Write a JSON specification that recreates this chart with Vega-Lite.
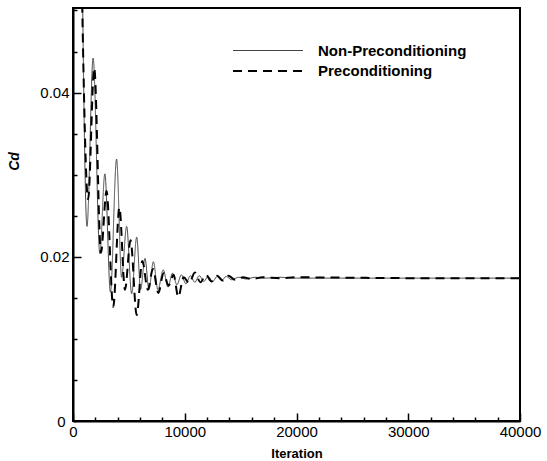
{
  "$schema": "https://vega.github.io/schema/vega-lite/v6.json",
  "width": 447,
  "height": 413,
  "autosize": "none",
  "padding": {"left": 73, "top": 8, "right": 27, "bottom": 40},
  "background": "white",
  "config": {
    "view": {"stroke": "black", "strokeWidth": 2},
    "font": "Liberation Sans",
    "legend": {"padding": 0}
  },
  "datasets": {
    "curves": [
      {"iter": 800, "cd": 0.058, "s": "Non-Preconditioning"},
      {"iter": 1250, "cd": 0.0237, "s": "Non-Preconditioning"},
      {"iter": 1800, "cd": 0.0442, "s": "Non-Preconditioning"},
      {"iter": 2400, "cd": 0.0204, "s": "Non-Preconditioning"},
      {"iter": 2850, "cd": 0.0301, "s": "Non-Preconditioning"},
      {"iter": 3350, "cd": 0.0157, "s": "Non-Preconditioning"},
      {"iter": 3900, "cd": 0.0319, "s": "Non-Preconditioning"},
      {"iter": 4350, "cd": 0.0175, "s": "Non-Preconditioning"},
      {"iter": 4800, "cd": 0.0237, "s": "Non-Preconditioning"},
      {"iter": 5250, "cd": 0.0155, "s": "Non-Preconditioning"},
      {"iter": 5700, "cd": 0.0224, "s": "Non-Preconditioning"},
      {"iter": 6050, "cd": 0.0160, "s": "Non-Preconditioning"},
      {"iter": 6440, "cd": 0.0198, "s": "Non-Preconditioning"},
      {"iter": 6800, "cd": 0.0160, "s": "Non-Preconditioning"},
      {"iter": 7190, "cd": 0.0194, "s": "Non-Preconditioning"},
      {"iter": 7600, "cd": 0.0160, "s": "Non-Preconditioning"},
      {"iter": 8080, "cd": 0.0184, "s": "Non-Preconditioning"},
      {"iter": 8500, "cd": 0.0163, "s": "Non-Preconditioning"},
      {"iter": 8900, "cd": 0.0180, "s": "Non-Preconditioning"},
      {"iter": 9300, "cd": 0.0166, "s": "Non-Preconditioning"},
      {"iter": 9700, "cd": 0.0178, "s": "Non-Preconditioning"},
      {"iter": 10100, "cd": 0.0167, "s": "Non-Preconditioning"},
      {"iter": 10500, "cd": 0.0177, "s": "Non-Preconditioning"},
      {"iter": 10900, "cd": 0.0169, "s": "Non-Preconditioning"},
      {"iter": 11300, "cd": 0.0177, "s": "Non-Preconditioning"},
      {"iter": 11700, "cd": 0.0170, "s": "Non-Preconditioning"},
      {"iter": 12100, "cd": 0.0176, "s": "Non-Preconditioning"},
      {"iter": 12500, "cd": 0.0170, "s": "Non-Preconditioning"},
      {"iter": 12900, "cd": 0.0176, "s": "Non-Preconditioning"},
      {"iter": 13300, "cd": 0.0171, "s": "Non-Preconditioning"},
      {"iter": 13700, "cd": 0.0176, "s": "Non-Preconditioning"},
      {"iter": 14200, "cd": 0.0172, "s": "Non-Preconditioning"},
      {"iter": 14800, "cd": 0.0175, "s": "Non-Preconditioning"},
      {"iter": 15500, "cd": 0.0173, "s": "Non-Preconditioning"},
      {"iter": 16300, "cd": 0.0175, "s": "Non-Preconditioning"},
      {"iter": 17200, "cd": 0.0174, "s": "Non-Preconditioning"},
      {"iter": 18500, "cd": 0.0175, "s": "Non-Preconditioning"},
      {"iter": 20000, "cd": 0.0174, "s": "Non-Preconditioning"},
      {"iter": 25000, "cd": 0.0174, "s": "Non-Preconditioning"},
      {"iter": 30000, "cd": 0.0174, "s": "Non-Preconditioning"},
      {"iter": 40000, "cd": 0.0174, "s": "Non-Preconditioning"},
      {"iter": 700, "cd": 0.060, "s": "Preconditioning"},
      {"iter": 1350, "cd": 0.027, "s": "Preconditioning"},
      {"iter": 1900, "cd": 0.0430, "s": "Preconditioning"},
      {"iter": 2500, "cd": 0.0205, "s": "Preconditioning"},
      {"iter": 3000, "cd": 0.0280, "s": "Preconditioning"},
      {"iter": 3600, "cd": 0.0139, "s": "Preconditioning"},
      {"iter": 4150, "cd": 0.0260, "s": "Preconditioning"},
      {"iter": 4650, "cd": 0.0160, "s": "Preconditioning"},
      {"iter": 5150, "cd": 0.0220, "s": "Preconditioning"},
      {"iter": 5700, "cd": 0.0129, "s": "Preconditioning"},
      {"iter": 6200, "cd": 0.0195, "s": "Preconditioning"},
      {"iter": 6700, "cd": 0.0160, "s": "Preconditioning"},
      {"iter": 7150, "cd": 0.0185, "s": "Preconditioning"},
      {"iter": 7640, "cd": 0.0156, "s": "Preconditioning"},
      {"iter": 8100, "cd": 0.0180, "s": "Preconditioning"},
      {"iter": 8550, "cd": 0.0165, "s": "Preconditioning"},
      {"iter": 9000, "cd": 0.0178, "s": "Preconditioning"},
      {"iter": 9420, "cd": 0.0151, "s": "Preconditioning"},
      {"iter": 9900, "cd": 0.0175, "s": "Preconditioning"},
      {"iter": 10400, "cd": 0.0168, "s": "Preconditioning"},
      {"iter": 10900, "cd": 0.0181, "s": "Preconditioning"},
      {"iter": 11400, "cd": 0.0169, "s": "Preconditioning"},
      {"iter": 11900, "cd": 0.0178, "s": "Preconditioning"},
      {"iter": 12400, "cd": 0.0170, "s": "Preconditioning"},
      {"iter": 12900, "cd": 0.0177, "s": "Preconditioning"},
      {"iter": 13400, "cd": 0.0171, "s": "Preconditioning"},
      {"iter": 13900, "cd": 0.0177, "s": "Preconditioning"},
      {"iter": 14500, "cd": 0.0172, "s": "Preconditioning"},
      {"iter": 15200, "cd": 0.0175, "s": "Preconditioning"},
      {"iter": 16000, "cd": 0.0173, "s": "Preconditioning"},
      {"iter": 17000, "cd": 0.0175, "s": "Preconditioning"},
      {"iter": 18500, "cd": 0.0174, "s": "Preconditioning"},
      {"iter": 20000, "cd": 0.0175, "s": "Preconditioning"},
      {"iter": 30000, "cd": 0.0174, "s": "Preconditioning"},
      {"iter": 40000, "cd": 0.0174, "s": "Preconditioning"}
    ]
  },
  "data": {"name": "curves"},
  "mark": {"type": "line", "clip": true, "interpolate": "monotone"},
  "encoding": {
    "x": {
      "field": "iter", "type": "quantitative",
      "scale": {"domain": [0, 40000], "nice": false},
      "axis": {
        "title": "Iteration",
        "titleFont": "Liberation Sans", "titleFontSize": 13, "titleFontWeight": "bold", "titleColor": "black", "titlePadding": 8,
        "values": [0, 2000, 4000, 6000, 8000, 10000, 12000, 14000, 16000, 18000, 20000, 22000, 24000, 26000, 28000, 30000, 32000, 34000, 36000, 38000, 40000],
        "labelExpr": "datum.value % 10000 === 0 ? datum.value : ''",
        "labelFontSize": 15, "labelColor": "black", "labelPadding": 11,
        "labelFlush": false,
        "domainColor": "black", "domainWidth": 2,
        "tickColor": "black", "tickWidth": 1.5,
        "tickSize": {"condition": {"test": "datum.value % 10000 === 0", "value": -8}, "value": -4},
        "grid": false
      }
    },
    "y": {
      "field": "cd", "type": "quantitative",
      "scale": {"domain": [0, 0.0503], "nice": false, "zero": true},
      "axis": {
        "title": "Cd",
        "titleFont": "Liberation Sans", "titleFontSize": 14, "titleFontWeight": "bold", "titleFontStyle": "italic", "titleColor": "black",
        "titleAngle": -90, "titleX": -52, "titleY": 153,
        "values": [0, 0.005, 0.01, 0.015, 0.02, 0.025, 0.03, 0.035, 0.04, 0.045, 0.05],
        "labelExpr": "datum.value === 0 ? '0' : (abs(datum.value - 0.02) < 1e-9 ? '0.02' : (abs(datum.value - 0.04) < 1e-9 ? '0.04' : ''))",
        "labelFontSize": 15, "labelColor": "black", "labelPadding": 12,
        "labelFlush": false,
        "domainColor": "black", "domainWidth": 2,
        "tickColor": "black", "tickWidth": 1.5,
        "tickSize": {"condition": {"test": "abs(datum.value - 0.02) < 1e-9 || abs(datum.value - 0.04) < 1e-9", "value": -8}, "value": -4},
        "grid": false
      }
    },
    "color": {
      "field": "s", "type": "nominal",
      "scale": {"domain": ["Non-Preconditioning", "Preconditioning"], "range": ["#444444", "black"]},
      "legend": {
        "title": null, "orient": "none", "legendX": 187, "legendY": 35,
        "symbolType": "M-5,0H5", "symbolSize": 196,
        "labelFont": "Liberation Sans", "labelFontSize": 15, "labelFontWeight": "bold", "labelColor": "black",
        "rowPadding": 4, "labelOffset": 42
      }
    },
    "strokeWidth": {
      "field": "s", "type": "nominal",
      "scale": {"domain": ["Non-Preconditioning", "Preconditioning"], "range": [1, 2]},
      "legend": {
        "title": null, "orient": "none", "legendX": 187, "legendY": 35,
        "symbolType": "M-5,0H5", "symbolSize": 196,
        "labelFont": "Liberation Sans", "labelFontSize": 15, "labelFontWeight": "bold", "labelColor": "black",
        "rowPadding": 4, "labelOffset": 42
      }
    },
    "strokeDash": {
      "field": "s", "type": "nominal",
      "scale": {"domain": ["Non-Preconditioning", "Preconditioning"], "range": [[1, 0], [9, 6]]},
      "legend": {
        "title": null, "orient": "none", "legendX": 187, "legendY": 35,
        "symbolType": "M-5,0H5", "symbolSize": 196,
        "labelFont": "Liberation Sans", "labelFontSize": 15, "labelFontWeight": "bold", "labelColor": "black",
        "rowPadding": 4, "labelOffset": 42
      }
    }
  }
}
